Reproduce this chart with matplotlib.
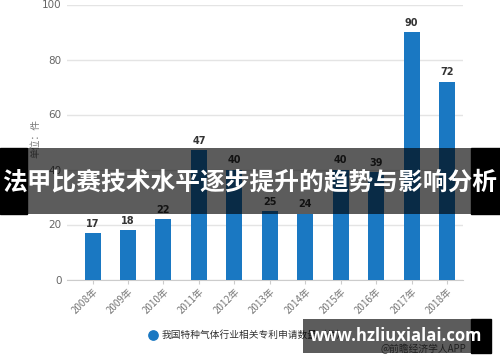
import matplotlib
matplotlib.use("Agg")
import matplotlib.pyplot as plt
from matplotlib.patches import Rectangle

plt.rcParams['font.family'] = ['Noto Sans CJK SC', 'DejaVu Sans']

years = ["2008年", "2009年", "2010年", "2011年", "2012年", "2013年",
         "2014年", "2015年", "2016年", "2017年", "2018年"]
values = [17, 18, 22, 47, 40, 25, 24, 40, 39, 90, 72]
yticks = [0, 20, 40, 60, 80, 100]
series_name = "我国特种气体行业相关专利申请数量（件）"
unit_label = "单位：件"
banner_text = "法甲比赛技术水平逐步提升的趋势与影响分析"
site_text = "www.hzliuxialai.com"
source_text = "@前瞻经济学人APP"

W, H = 500, 362
fig = plt.figure(figsize=(W / 100, H / 100), dpi=100)
fig.patch.set_facecolor("white")

ax = fig.add_axes([67 / W, 1 - 279.5 / H, (463 - 67) / W, (279.5 - 4.5) / H])
x = list(range(len(years)))
bar_color = "#1a78c2"
ax.bar(x, values, width=0.45, color=bar_color, zorder=3)
for xi, v in zip(x, values):
    ax.annotate(str(v), (xi, v), xytext=(0, 3), textcoords="offset points",
                ha="center", va="bottom", fontsize=7, fontweight="bold",
                color="#333333", family=["DejaVu Sans"])
ax.set_xlim(-0.72, 10.45)
ax.set_ylim(0, 100)
ax.set_yticks(yticks)
ax.set_yticklabels([str(t) for t in yticks], fontsize=7.5, color="#666666",
                   family=["DejaVu Sans"])
ax.set_xticks(x)
ax.set_xticklabels(years, rotation=45, ha="right", rotation_mode="anchor",
                   fontsize=7, color="#777777")
ax.grid(axis="y", color="#e4e4e4", linewidth=1, zorder=0)
for s in ["top", "right", "left"]:
    ax.spines[s].set_visible(False)
ax.spines["bottom"].set_color("#cccccc")
ax.tick_params(axis="y", length=0, pad=4)
ax.tick_params(axis="x", length=3, color="#cccccc", pad=2)
ax.set_facecolor("none")

# overlay in pixel coordinates
ov = fig.add_axes([0, 0, 1, 1], zorder=10)
ov.set_xlim(0, W)
ov.set_ylim(H, 0)
ov.axis("off")
ov.patch.set_alpha(0)

# unit label
ov.text(35, 138, unit_label, rotation=90, ha="center", va="center",
        fontsize=7, color="#777777")

# legend
ov.scatter([153], [335], s=45, color=bar_color, zorder=2)
ov.text(162, 335, series_name, ha="left", va="center", fontsize=7,
        color="#333333")

# source
ov.text(466, 349, source_text, ha="right", va="center", fontsize=7,
        color="#555555")

# banner
ov.add_patch(Rectangle((0, 147.5), 27, 66.5, color="black", zorder=5))
ov.add_patch(Rectangle((471, 147.5), 29, 66.5, color="black", zorder=5))
ov.add_patch(Rectangle((27, 147.5), 444, 66.5, color="black", alpha=0.64,
                       zorder=5, linewidth=0))
ov.text(250, 182, banner_text, ha="center", va="center", fontsize=17.8,
        fontweight="bold", color="white", zorder=6)

# site box
ov.add_patch(Rectangle((303, 319), 168, 34, color="black", alpha=0.64,
                       zorder=5, linewidth=0))
ov.add_patch(Rectangle((471, 319), 20, 34, color="black", zorder=5))
ov.text(396, 336, site_text, ha="center", va="center", fontsize=12,
        fontweight="bold", color="white", zorder=6,
        family=["Open Sans", "DejaVu Sans"])

fig.savefig("out.png", dpi=100, facecolor="white")
